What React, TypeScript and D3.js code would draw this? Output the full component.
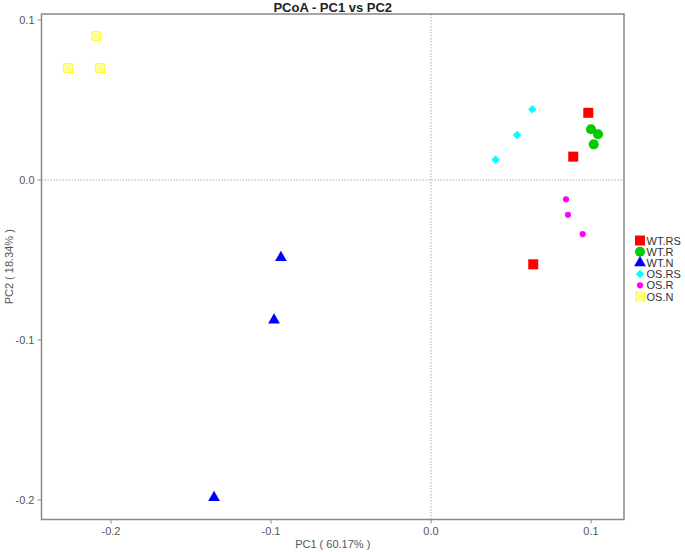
import * as d3 from "d3";

const groups = ["WT.RS", "WT.R", "WT.N", "OS.RS", "OS.R", "OS.N"];
const colors = ["#ff0000", "#00cc00", "#0000ff", "#00ffff", "#ff00ff", "#ffff33"];

// sample scores per group: [PC1, PC2]
const wtRS = [[0.0983, 0.042], [0.0889, 0.0146], [0.0639, -0.0527]];
const wtR = [[0.1, 0.0317], [0.1044, 0.0286], [0.1017, 0.0223]];
const wtN = [[-0.0938, -0.0485], [-0.0981, -0.0875], [-0.1356, -0.1985]];
const osRS = [[0.0633, 0.0442], [0.0538, 0.0281], [0.0404, 0.0127]];
const osR = [[0.0844, -0.0121], [0.0856, -0.0217], [0.0948, -0.0338]];
const osN = [[-0.2094, 0.09], [-0.2269, 0.07], [-0.2069, 0.07]];

const series = [wtRS, wtR, wtN, osRS, osR, osN];

const xTicks = [-0.2, -0.1, 0.0, 0.1];
const yTicks = [0.1, 0.0, -0.1, -0.2];

const W = 685, H = 552;
const left = 41.5, right = 624, top = 14, bottom = 519.5;

const x = d3.scaleLinear().domain([-0.2, 0.1]).range([111, 591]);
const y = d3.scaleLinear().domain([-0.2, 0.1]).range([500, 20]);

const font = "'Liberation Sans', Arial, sans-serif";

const Marker = ({ g, cx, cy }: { g: number; cx: number; cy: number }) => {
  const c = colors[g];
  if (g === 0) return <path transform={`translate(${cx},${cy})`} d={d3.symbol(d3.symbolSquare, 100)()!} fill={c} />;
  if (g === 1) return <path transform={`translate(${cx},${cy})`} d={d3.symbol(d3.symbolCircle, 80)()!} fill={c} />;
  if (g === 2) return <path transform={`translate(${cx},${cy})`} d={d3.symbol(d3.symbolTriangle, 60)()!} fill={c} />;
  if (g === 3) return <path transform={`translate(${cx},${cy}) rotate(45)`} d={d3.symbol(d3.symbolSquare, 36)()!} fill={c} />;
  if (g === 4) return <path transform={`translate(${cx},${cy})`} d={d3.symbol(d3.symbolCircle, 30)()!} fill={c} />;
  const s = 4.5;
  return (
    <g transform={`translate(${cx},${cy})`}>
      <rect x={-s} y={-s} width={2 * s} height={2 * s} fill="#ffffb0" stroke={c} strokeWidth={1} />
      <path d={`M${-s},${-s}L${s},${s}M${-s},${s}L${s},${-s}`} stroke={c} strokeWidth={0.9} />
    </g>
  );
};

export default function App() {
  return (
    <svg width={W} height={H} style={{ position: "absolute", left: 0, top: 0, background: "#fff" }} fontFamily={font}>
      <text x={(left + right) / 2} y={12} textAnchor="middle" fontWeight="bold" fontSize={13} fill="#222">PCoA - PC1 vs PC2</text>
      {/* zero reference lines */}
      <line x1={x(0)} x2={x(0)} y1={top} y2={bottom} stroke="#999" strokeDasharray="1.5,1.5" strokeWidth={0.8} />
      <line x1={left} x2={right} y1={y(0)} y2={y(0)} stroke="#999" strokeDasharray="1.5,1.5" strokeWidth={0.8} />
      <rect x={left} y={top} width={right - left} height={bottom - top} fill="none" stroke="#888" strokeWidth={1.5} />
      {xTicks.map((t) => (
        <g key={"x" + t}>
          <line x1={x(t)} x2={x(t)} y1={bottom} y2={bottom + 4} stroke="#888" strokeWidth={1} />
          <text x={x(t)} y={bottom + 15} textAnchor="middle" fontSize={11} fill="#555">{d3.format(".1f")(t).replace("−", "-")}</text>
        </g>
      ))}
      {yTicks.map((t) => (
        <g key={"y" + t}>
          <line x1={left - 4} x2={left} y1={y(t)} y2={y(t)} stroke="#888" strokeWidth={1} />
          <text x={left - 7} y={y(t) + 4} textAnchor="end" fontSize={11} fill="#555">{d3.format(".1f")(t).replace("−", "-")}</text>
        </g>
      ))}
      <text x={(left + right) / 2} y={548} textAnchor="middle" fontSize={11} fill="#555">PC1 ( 60.17% )</text>
      <text transform={`translate(13,${(top + bottom) / 2}) rotate(-90)`} textAnchor="middle" fontSize={11} fill="#555">PC2 ( 18.34% )</text>
      {series.map((pts, g) => pts.map((p, i) => <Marker key={g + "-" + i} g={g} cx={x(p[0])} cy={y(p[1])} />))}
      {groups.map((name, g) => (
        <g key={name}>
          <Marker g={g} cx={640} cy={240.5 + g * 11.2} />
          <text x={646.5} y={240.5 + g * 11.2 + 4} fontSize={11} fill="#333">{name}</text>
        </g>
      ))}
    </svg>
  );
}
